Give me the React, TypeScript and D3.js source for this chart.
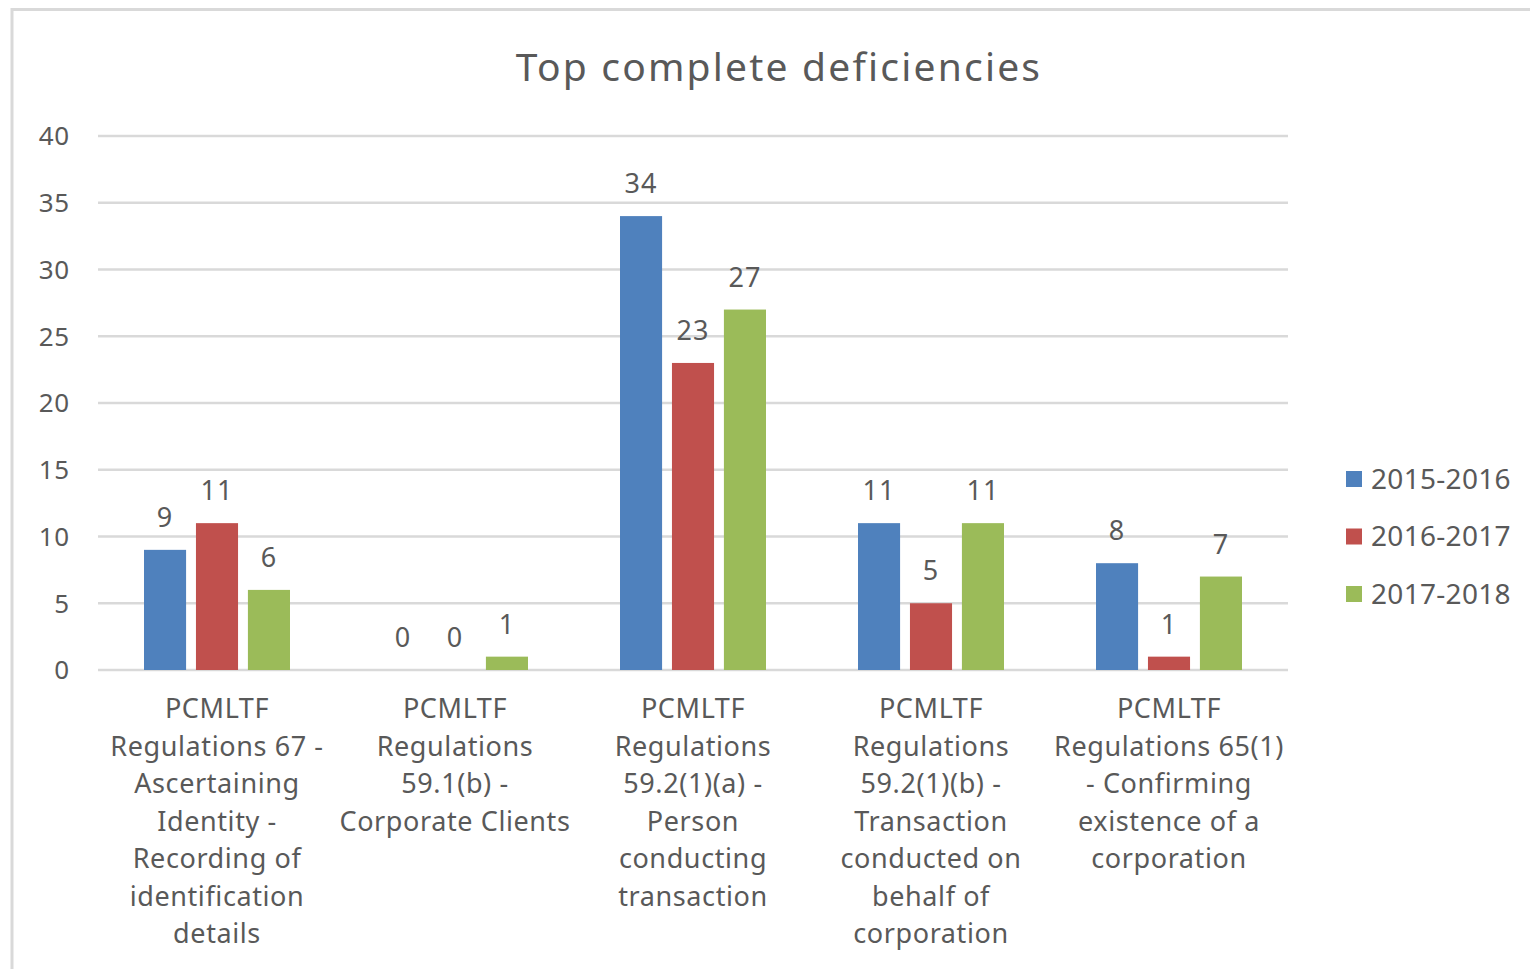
import React from 'react'
import * as d3 from 'd3'

const categories = [
  ['PCMLTF', 'Regulations 67 -', 'Ascertaining', 'Identity -', 'Recording of', 'identification', 'details'],
  ['PCMLTF', 'Regulations', '59.1(b) -', 'Corporate Clients'],
  ['PCMLTF', 'Regulations', '59.2(1)(a) -', 'Person', 'conducting', 'transaction'],
  ['PCMLTF', 'Regulations', '59.2(1)(b) -', 'Transaction', 'conducted on', 'behalf of', 'corporation'],
  ['PCMLTF', 'Regulations 65(1)', '- Confirming', 'existence of a', 'corporation'],
]
const seriesNames = ['2015-2016', '2016-2017', '2017-2018']
const values2015 = [9, 0, 34, 11, 8]
const values2016 = [11, 0, 23, 5, 1]
const values2017 = [6, 1, 27, 11, 7]
const yTicks = [0, 5, 10, 15, 20, 25, 30, 35, 40]
const colors = ['#4F81BD', '#C0504D', '#9BBB59']

const W = 1530
const H = 969
const plot = { left: 98, right: 1288, top: 136, bottom: 670 }
const font = '"Noto Sans", "Open Sans", sans-serif'
const textColor = '#595959'

export default function App() {
  const series = [values2015, values2016, values2017]
  const x = d3.scaleBand<number>()
    .domain(d3.range(categories.length))
    .range([plot.left, plot.right])
  const inner = d3.scaleBand<number>()
    .domain(d3.range(series.length))
    .range([46, x.bandwidth() - 46])
    .paddingInner(0.19)
  const y = d3.scaleLinear().domain([0, 40]).range([plot.bottom, plot.top])

  return (
    <div style={{ position: 'fixed', left: 0, top: 0 }}>
      <svg width={W} height={H} style={{ display: 'block', background: '#fff' }}>
        <path d={`M12,${H} V9.5 H${W}`} fill="none" stroke="#d9d9d9" strokeWidth={3} />
        <text x={779} y={81} textAnchor="middle" fontFamily={font} fontSize={39} letterSpacing={2.2} fill={textColor}>
          Top complete deficiencies
        </text>

        {yTicks.map(t => (
          <g key={t}>
            <line x1={plot.left} x2={plot.right} y1={y(t)} y2={y(t)} stroke="#d9d9d9" strokeWidth={2.5} />
            <text x={70} y={y(t)} dy="0.36em" textAnchor="end" fontFamily={font} fontSize={26} letterSpacing={0.8} fill={textColor}>
              {t}
            </text>
          </g>
        ))}

        {categories.map((lines, i) => (
          <g key={i} transform={`translate(${x(i)},0)`}>
            {series.map((vals, s) => (
              <g key={s}>
                {vals[i] > 0 && (
                  <rect
                    x={inner(s)}
                    y={y(vals[i])}
                    width={inner.bandwidth()}
                    height={y(0) - y(vals[i])}
                    fill={colors[s]}
                  />
                )}
                <text
                  x={inner(s)! + inner.bandwidth() / 2}
                  y={y(vals[i]) - 23}
                  textAnchor="middle"
                  fontFamily={font}
                  fontSize={27}
                  letterSpacing={1}
                  fill={textColor}
                >
                  {vals[i]}
                </text>
              </g>
            ))}
            {lines.map((ln, k) => (
              <text
                key={k}
                x={x.bandwidth() / 2}
                y={718 + k * 37.5}
                textAnchor="middle"
                fontFamily={font}
                fontSize={27}
                letterSpacing={0.6}
                fill={textColor}
              >
                {ln}
              </text>
            ))}
          </g>
        ))}

        {seriesNames.map((name, s) => (
          <g key={name} transform={`translate(1346,${479 + s * 57.5})`}>
            <rect x={0} y={-8} width={16} height={16} fill={colors[s]} />
            <text x={25} y={0} dy="0.35em" fontFamily={font} fontSize={28} letterSpacing={0.3} fill={textColor}>
              {name}
            </text>
          </g>
        ))}
      </svg>
    </div>
  )
}
